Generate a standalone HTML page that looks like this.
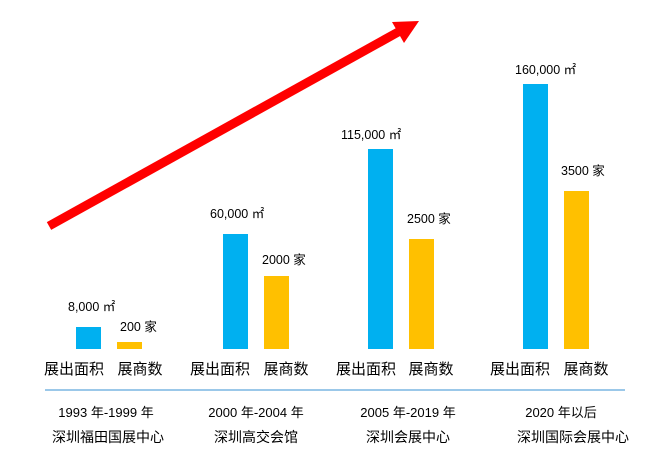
<!DOCTYPE html>
<html><head><meta charset="utf-8"><style>
body{margin:0;background:#fff;}
svg text{font-family:"Liberation Sans","Noto Sans CJK SC",sans-serif;fill:#000;}
</style></head><body>
<svg width="669" height="461" xmlns="http://www.w3.org/2000/svg">
<rect width="669" height="461" fill="#fff"/>
<line x1="49" y1="226" x2="400" y2="31" stroke="#ff0000" stroke-width="9"/>
<polygon points="419,21 392,22 404,43" fill="#ff0000"/>
<g fill="#00b0f0">
<rect x="76" y="327" width="25" height="22"/>
<rect x="223" y="234" width="25" height="115"/>
<rect x="368" y="149" width="25" height="200"/>
<rect x="523" y="84" width="25" height="265"/>
</g>
<g fill="#ffc000">
<rect x="117" y="342" width="25" height="7"/>
<rect x="264" y="276" width="25" height="73"/>
<rect x="409" y="239" width="25" height="110"/>
<rect x="564" y="191" width="25" height="158"/>
</g>
<g font-size="12.5">
<text x="68" y="311">8,000 ㎡</text>
<text x="120" y="331">200 家</text>
<text x="210" y="218">60,000 ㎡</text>
<text x="262" y="264">2000 家</text>
<text x="341" y="139">115,000 ㎡</text>
<text x="407" y="223">2500 家</text>
<text x="515" y="74">160,000 ㎡</text>
<text x="561" y="175">3500 家</text>
</g>
<g font-size="15" text-anchor="middle">
<text x="74" y="374">展出面积</text><text x="140" y="374">展商数</text>
<text x="220" y="374">展出面积</text><text x="286" y="374">展商数</text>
<text x="366" y="374">展出面积</text><text x="431" y="374">展商数</text>
<text x="520" y="374">展出面积</text><text x="586" y="374">展商数</text>
</g>
<line x1="45" y1="390" x2="625" y2="390" stroke="#5fa8dc" stroke-width="1.2"/>
<g font-size="13" text-anchor="middle">
<text x="106" y="417">1993 年-1999 年</text>
<text x="256" y="417">2000 年-2004 年</text>
<text x="408" y="417">2005 年-2019 年</text>
<text x="561" y="417">2020 年以后</text>
</g>
<g font-size="14" text-anchor="middle">
<text x="108" y="442">深圳福田国展中心</text>
<text x="256" y="442">深圳高交会馆</text>
<text x="408" y="442">深圳会展中心</text>
<text x="573" y="442">深圳国际会展中心</text>
</g>
</svg>
</body></html>
